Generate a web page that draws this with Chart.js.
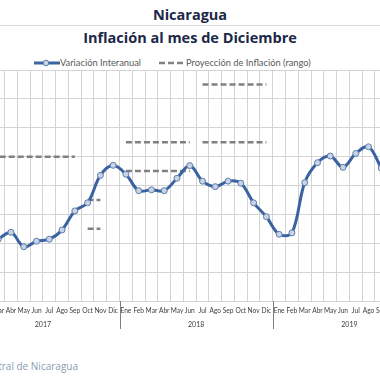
<!DOCTYPE html>
<html>
<head>
<meta charset="utf-8">
<script src="https://cdn.jsdelivr.net/npm/chart.js@4"></script>
<style>
  html,body{margin:0;padding:0;background:#fff;}
  body{width:380px;height:380px;overflow:hidden;position:relative;font-family:"Lato",sans-serif;}
  #c{position:absolute;left:-40px;top:0;}
  .t{position:absolute;left:0;width:380px;text-align:center;font-family:"Open Sans",sans-serif;font-weight:700;font-size:14.5px;color:#1b2847;white-space:nowrap;line-height:18px;}
  .sep{position:absolute;left:0;width:380px;height:1px;background:#d9d9d9;}
  .lg{position:absolute;font-size:9.3px;color:#595959;white-space:nowrap;line-height:10px;}
  #src{position:absolute;right:302px;top:359px;font-family:"Open Sans",sans-serif;font-size:10px;color:#8a9bb3;white-space:nowrap;}
</style>
</head>
<body>
<div class="t" style="top:6px;">Nicaragua</div>
<div class="sep" style="top:25px;"></div>
<div class="t" style="top:29px;">Inflación al mes de Diciembre</div>
<svg style="position:absolute;left:34px;top:58px;" width="30" height="10">
  <line x1="0" y1="5" x2="26" y2="5" stroke="#3b64a0" stroke-width="3"/>
  <circle cx="12" cy="5" r="2.8" fill="#c9d3e3" stroke="#5b7db0" stroke-width="1"/>
</svg>
<div class="lg" style="left:60px;top:58px;">Variación Interanual</div>
<svg style="position:absolute;left:159px;top:58px;" width="28" height="10">
  <line x1="0" y1="5" x2="27" y2="5" stroke="#808080" stroke-width="2.5" stroke-dasharray="6,3"/>
</svg>
<div class="lg" style="left:186px;top:58px;">Proyección de Inflación (rango)</div>
<div id="src">Fuente: Banco Central de Nicaragua</div>
<canvas id="c" width="480" height="380"></canvas>
<script>
const months = ['Ene','Feb','Mar','Abr','May','Jun','Jul','Ago','Sep','Oct','Nov','Dic'];
const years = ['2017','2018','2019'];
// Variación interanual (%), Ene 2017 .. Dic 2019
const inflation = [null,null,3.14,3.38,2.88,3.07,3.14,3.46,4.12,4.40,5.35,5.70,
                   5.39,4.82,4.85,4.82,5.25,5.69,5.15,4.96,5.15,5.08,4.40,3.92,
                   3.31,3.36,5.10,5.79,6.02,5.63,6.11,6.34,5.60,null,null,null];
// Proyección de inflación (rango)
const projHigh = [6.0,6.0,6.0,6.0,6.0,6.0,6.0,6.0,6.0,4.5,4.5,null,
                  6.5,6.5,6.5,6.5,6.5,6.5,8.5,8.5,8.5,8.5,8.5,8.5,
                  null,null,null,null,null,null,null,null,null,null,null,null];
const projLow  = [null,null,null,null,null,null,null,null,null,3.5,3.5,null,
                  5.5,5.5,5.5,5.5,5.5,5.5,6.5,6.5,6.5,6.5,6.5,6.5,
                  null,null,null,null,null,null,null,null,null,null,null,null];
const projPeriod = [1,1,1,1,1,1,1,1,1,2,2,0,3,3,3,3,3,3,4,4,4,4,4,4,0,0,0,0,0,0,0,0,0,0,0,0];
const yMin = 1, yMax = 9;

const labels = [];
years.forEach(y => months.forEach(m => labels.push(m)));

const grey = '#808080';
const segColor = ctx => projPeriod[ctx.p0DataIndex] === projPeriod[ctx.p1DataIndex] ? grey : 'rgba(0,0,0,0)';

const yearPlugin = {
  id: 'yearLabels',
  afterDraw(chart) {
    const xs = chart.scales.x, ctx = chart.ctx, area = chart.chartArea;
    const half = (xs.getPixelForValue(1) - xs.getPixelForValue(0)) / 2;
    ctx.save();
    ctx.font = '7px Lato';
    ctx.fillStyle = '#404040';
    ctx.textAlign = 'center';
    ctx.textBaseline = 'middle';
    years.forEach((yr, k) => {
      const a = xs.getPixelForValue(k * 12), b = xs.getPixelForValue(k * 12 + 11);
      ctx.fillText(yr, (a + b) / 2, area.bottom + 23.5);
    });
    ctx.strokeStyle = '#7f7f7f';
    ctx.lineWidth = 1;
    for (let k = 1; k < years.length; k++) {
      const x = Math.round(xs.getPixelForValue(k * 12) - half) + 0.5;
      ctx.beginPath();
      ctx.moveTo(x, area.bottom);
      ctx.lineTo(x, area.bottom + 28);
      ctx.stroke();
    }
    ctx.restore();
  }
};

new Chart(document.getElementById('c'), {
  type: 'line',
  data: {
    labels,
    datasets: [
      { label: 'Variación Interanual', data: inflation, borderColor: '#3a62a0', borderWidth: 3,
        pointRadius: 3, pointBackgroundColor: '#c9d3e3', pointBorderColor: '#5b7db0', pointBorderWidth: 1,
        tension: 0.35, spanGaps: false },
      { label: 'Proyección de Inflación (rango)', data: projHigh, borderColor: grey, borderWidth: 2.5,
        borderDash: [6, 3], pointRadius: 0, tension: 0, segment: { borderColor: segColor } },
      { label: 'Proyección low', data: projLow, borderColor: grey, borderWidth: 2.5,
        borderDash: [6, 3], pointRadius: 0, tension: 0, segment: { borderColor: segColor } }
    ]
  },
  options: {
    responsive: false,
    animation: false,
    layout: { padding: { left: 6.3, right: 14, top: 70, bottom: 49 } },
    plugins: { legend: { display: false }, title: { display: false }, tooltip: { enabled: false } },
    scales: {
      x: {
        offset: true,
        grid: { offset: true, color: '#d4d4d4', lineWidth: 1, drawTicks: false },
        border: { display: false },
        ticks: { autoSkip: false, maxRotation: 0, minRotation: 0, padding: 6,
                 font: { family: 'Lato', size: 6.6 }, color: '#404040' },
        afterFit: s => { s.height = 30; }
      },
      y: {
        min: yMin, max: yMax,
        ticks: { display: false, stepSize: 1 },
        grid: { color: '#d4d4d4', lineWidth: 1, drawTicks: false },
        border: { display: false },
        afterFit: s => { s.width = 0; }
      }
    }
  },
  plugins: [yearPlugin]
});
</script>
</body>
</html>
